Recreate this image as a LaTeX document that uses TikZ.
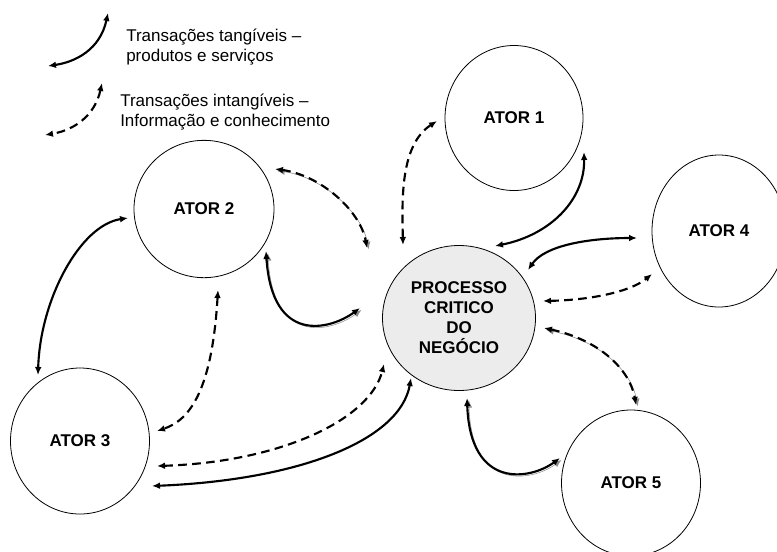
\documentclass[tikz,border=0pt]{standalone}
\usepackage{fontspec}
\setmainfont{Liberation Sans}
\usetikzlibrary{shapes.geometric}
\usetikzlibrary{arrows.meta}
\usetikzlibrary{calc}
\definecolor{pgray}  {RGB}{236,236,236}
\definecolor{sgray}  {RGB}{140,140,140}
\tikzset{
    ator/.style={draw, ellipse, line width=0.6pt, inner sep=0pt, align=center,
             font=\bfseries\fontsize{12.75}{15}\selectfont},
    tangivel/.style={line width=1.6pt,
             {Latex[length=6pt,width=5pt]}-{Latex[length=6pt,width=5pt]}},
    intangivel/.style={tangivel, dash pattern=on 6.5pt off 4pt},
    sombra/.style={preaction={draw=sgray, transform canvas={shift={(1.3pt,-1.3pt)}}}},
    legenda/.style={align=left, inner sep=0pt, anchor=west,
             font=\fontsize{12.75}{14.5}\selectfont}
  }

\begin{document}
\begin{tikzpicture}[x=0.75pt, y=-0.75pt]
 \useasboundingbox (0,0) rectangle (777,551);
 %legenda
     \coordinate (t1) at (108,13);
     \coordinate (t2) at (48,66);
     \coordinate (i1) at (102,83);
     \coordinate (i2) at (45,135);
     \draw[tangivel] (t1) .. controls +(-8,37) and +(27,-4) .. (t2);
     \draw[intangivel] (i1) .. controls +(-7,32) and +(30,-5) .. (i2);
     \node[legenda] (lt) at (126,47) {Transações tangíveis –\\produtos e serviços};
     \node[legenda] (li) at (120,112) {Transações intangíveis –\\Informação e conhecimento};
 %atores
     \node[ator, fill=pgray, minimum width=114.75pt, minimum height=108.75pt] (p) at (459,318)
          {PROCESSO\\CRITICO\\DO\\NEGÓCIO};
     \node[ator, minimum width=103.5pt, minimum height=108.75pt] (a1) at (514,118) {ATOR 1};
     \node[ator, minimum width=105pt, minimum height=103pt] (a2) at (204,209) {ATOR 2};
     \node[ator, minimum width=104.25pt, minimum height=109.5pt] (a3) at (80,441) {ATOR 3};
     \node[ator, minimum width=100.5pt, minimum height=114pt] (a4) at (719,231) {ATOR 4};
     \node[ator, minimum width=104.25pt, minimum height=109.5pt] (a5) at (631,483) {ATOR 5};
 %ator 1
     \draw[intangivel] ($(a1)+(-77,3)$) .. controls +(-37,24) and +(-1,-45) .. ($(p)+(-56,-73)$);
     \draw[tangivel] ($(a1)+(70,34)$) .. controls +(1,48) and +(55,-11) .. ($(p)+(36,-72)$);
 %ator 2
     \draw[intangivel,sombra] ($(a2)+(71,-40)$) .. controls +(45,6) and +(-7,-38) .. ($(p)+(-92,-70)$);
     \draw[tangivel,sombra] ($(a2)+(62,42)$) .. controls +(6,94) and +(-30,22) .. ($(p)+(-99,-10)$);
     \draw[tangivel] ($(a2)+(-76,9)$) .. controls +(-48,7) and +(2,-75) .. ($(a3)+(-42,-66)$);
     \draw[intangivel] ($(a2)+(14,81)$) .. controls +(-6,100) and +(33,-11) .. ($(a3)+(77,-10)$);
 %ator 3
     \draw[intangivel] ($(a3)+(77,25)$) .. controls +(123,-4) and +(-14,56) .. ($(p)+(-75,46)$);
     \draw[tangivel] ($(a3)+(72,45)$) .. controls +(148,-6) and +(-11,62) .. ($(p)+(-48,60)$);
 %ator 4
     \draw[tangivel] ($(p)+(69,-48)$) .. controls +(17,-25) and +(-47,0) .. ($(a4)+(-82,7)$);
     \draw[intangivel] ($(p)+(84,-17)$) .. controls +(47,-1) and +(-22,18) .. ($(a4)+(-67,43)$);
 %ator 5
     \draw[intangivel,sombra] ($(p)+(85,10)$) .. controls +(56,12) and +(-6,-35) .. ($(a5)+(5,-78)$);
     \draw[tangivel,sombra] ($(p)+(8,80)$) .. controls +(3,92) and +(-30,22) .. ($(a5)+(-71,-25)$);
\end{tikzpicture}
\end{document}
